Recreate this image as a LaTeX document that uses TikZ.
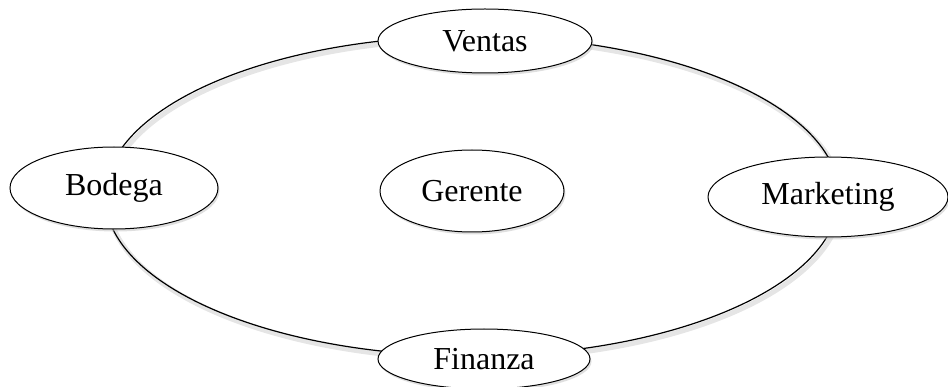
\documentclass[tikz,border=0pt]{standalone}
\usepackage{fontspec}
\setmainfont{Liberation Serif}
\usetikzlibrary{shapes.geometric,shadows}
\begin{document}
\begin{tikzpicture}[x=1pt,y=-1pt,
  unit/.style={ellipse,draw,line width=1pt,fill=white,inner sep=0pt,
    font=\fontsize{32}{36}\selectfont,
    drop shadow={shadow xshift=1.5pt,shadow yshift=-2.5pt,fill=black!25,opacity=0.5}},
  ring/.style={ellipse,draw,line width=1.2pt,inner sep=0pt}]
\useasboundingbox (0,0) rectangle (948,387);
% soft shadow of the ring
\draw[black!10,line width=5pt] (474.5,199) ellipse [x radius=367,y radius=160];
\node[ring,minimum width=734pt,minimum height=320pt] (ring) at (472,196) {};
\node[unit,minimum width=214pt,minimum height=64pt] (ventas) at (485,41) {\raisebox{-4pt}{Ventas}};
\node[unit,minimum width=208pt,minimum height=82pt] (bodega) at (114,188) {\raisebox{-2pt}{Bodega}};
\node[unit,minimum width=240pt,minimum height=80pt] (marketing) at (828,197) {\raisebox{-2pt}{Marketing}};
\node[unit,minimum width=184pt,minimum height=82pt] (gerente) at (472,191) {\raisebox{-1pt}{Gerente}};
\node[unit,minimum width=212pt,minimum height=60pt] (finanza) at (484,359) {Finanza};
\end{tikzpicture}
\end{document}
